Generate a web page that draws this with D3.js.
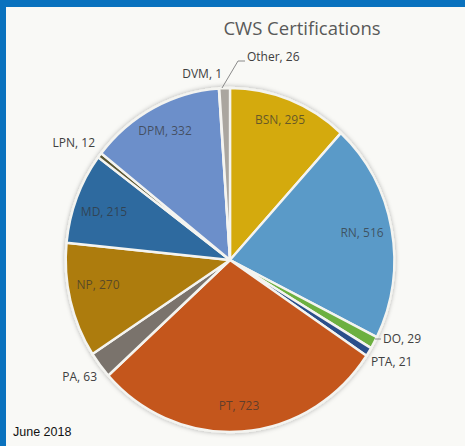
<!DOCTYPE html>
<html lang="en">

<head>
    <meta charset="UTF-8">
    <title>CWS Certifications</title>
    <script src="https://d3js.org/d3.v7.min.js"></script>
    <style>
        body {
            margin: 0;
            background: #0a72be;
        }

        svg {
            display: block;
        }

        .lbl {
            font-family: 'Open Sans', 'Noto Sans', sans-serif;
            font-size: 12px;
        }
    </style>
</head>

<body>
    <svg width="465" height="446"></svg>
    <script>
        const width = 465;
        const height = 446;

        // clockwise from 12 o'clock
        const categories = ["BSN", "RN", "DO", "PTA", "PT", "PA", "NP", "MD", "LPN", "DPM", "DVM", "Other"];
        const counts = [295, 516, 29, 21, 723, 63, 270, 215, 12, 332, 1, 26];
        const colors = ["#d4aa0e", "#5a9ac8", "#6cb040", "#2b4f8a", "#c4561f", "#7a736c",
            "#ad7c10", "#2e6b9f", "#5a5630", "#6c8fca", "#8a8a8a", "#aaa69f"];
        const insideLabels = ["BSN", "RN", "PT", "NP", "MD", "DPM"];

        const data = categories.map((c, i) => ({ name: c, value: counts[i], color: colors[i] }));

        const svg = d3.select("svg");

        // page panel with the blue frame at top / left
        svg.append("rect")
            .attr("x", 6).attr("y", 7)
            .attr("width", width - 6).attr("height", height - 7)
            .attr("fill", "#f9f9f6");

        const defs = svg.append("defs");
        const f = defs.append("filter").attr("id", "shadow")
            .attr("x", "-10%").attr("y", "-10%").attr("width", "120%").attr("height", "120%");
        f.append("feDropShadow").attr("dx", 0).attr("dy", 0).attr("stdDeviation", 2.5)
            .attr("flood-color", "#000").attr("flood-opacity", 0.3);

        svg.append("text")
            .attr("x", 302).attr("y", 35)
            .attr("text-anchor", "middle")
            .attr("fill", "#595959")
            .style("font-family", "'Open Sans', 'Noto Sans', sans-serif")
            .style("font-size", "18.5px")
            .text("CWS Certifications");

        const cx = 230, cy = 260, r = 172;
        const sx = 0.955; // photo is slightly squeezed horizontally

        const pie = d3.pie().value(d => d.value).sort(null);
        const arcs = pie(data);
        const arc = d3.arc().innerRadius(0).outerRadius(r);

        const g = svg.append("g")
            .attr("transform", `translate(${cx},${cy}) scale(${sx},1)`);

        g.append("g").attr("filter", "url(#shadow)")
            .selectAll("path")
            .data(arcs)
            .enter()
            .append("path")
            .attr("d", arc)
            .attr("fill", d => d.data.color)
            .attr("stroke", "#f4f4f0")
            .attr("stroke-width", 2.5)
            .attr("stroke-linejoin", "round");

        // inside labels
        const inner = svg.append("g").attr("transform", `translate(${cx},${cy})`);
        const inPos = { BSN: [50, -136], RN: [132, -23], PT: [9, 150], NP: [-132, 29], MD: [-126, -44], DPM: [-65, -125] };
        inner.selectAll("text.in")
            .data(arcs.filter(d => insideLabels.includes(d.data.name)))
            .enter()
            .append("text")
            .attr("class", "lbl in")
            .attr("x", d => inPos[d.data.name][0])
            .attr("y", d => inPos[d.data.name][1])
            .attr("text-anchor", "middle")
            .attr("fill", "#333")
            .attr("fill-opacity", 0.7)
            .text(d => `${d.data.name}, ${d.data.value}`);

        // outside labels
        const outPos = {
            Other: [17, -199, "start"], DVM: [-8, -182, "end"], LPN: [-135, -113, "end"],
            DO: [153, 83, "start"], PTA: [141, 106, "start"], PA: [-133, 121, "end"]
        };
        inner.selectAll("text.out")
            .data(arcs.filter(d => !insideLabels.includes(d.data.name)))
            .enter()
            .append("text")
            .attr("class", "lbl out")
            .attr("x", d => outPos[d.data.name][0])
            .attr("y", d => outPos[d.data.name][1])
            .attr("text-anchor", d => outPos[d.data.name][2])
            .attr("fill", "#404040")
            .text(d => `${d.data.name}, ${d.data.value}`);

        // leader lines
        inner.append("path")
            .attr("d", "M-8,-172 L8,-199 L15,-199")
            .attr("fill", "none").attr("stroke", "#8a8a8a").attr("stroke-width", 1);
        inner.append("path")
            .attr("d", "M145,79 L151,79")
            .attr("fill", "none").attr("stroke", "#8a8a8a").attr("stroke-width", 1);

        svg.append("text")
            .attr("x", 13).attr("y", 436)
            .attr("fill", "#111")
            .style("font-family", "'Liberation Sans', Arial, sans-serif")
            .style("font-size", "12.5px")
            .text("June 2018");
    </script>
</body>

</html>
